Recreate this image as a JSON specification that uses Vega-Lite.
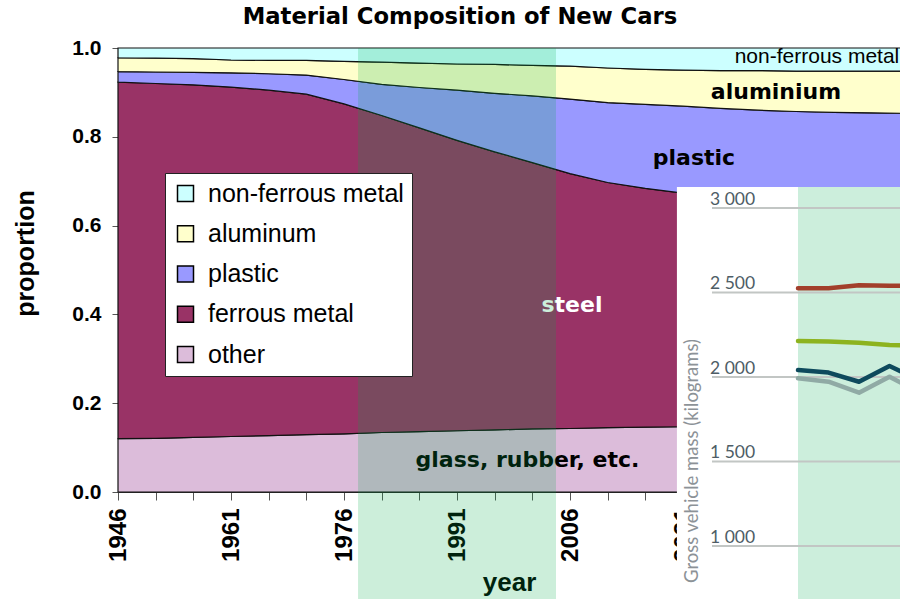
{
  "$schema": "https://vega.github.io/schema/vega-lite/v6.json",
  "width": 782,
  "height": 444,
  "autosize": {"type": "none"},
  "padding": {"left": 118, "top": 48, "right": 0, "bottom": 107},
  "background": "white",
  "title": {"text": "Material Composition of New Cars", "font": "DejaVu Sans", "fontSize": 22.7, "fontWeight": "bold", "color": "black", "anchor": "middle", "dx": -49, "offset": 8},
  "config": {"view": {"stroke": null}},
  "datasets": {
    "composition": [
      {"year": 1946, "material": "other", "share": 0.120}, {"year": 1946, "material": "ferrous metal", "share": 0.803}, {"year": 1946, "material": "plastic", "share": 0.024}, {"year": 1946, "material": "aluminum", "share": 0.031}, {"year": 1946, "material": "non-ferrous metal", "share": 0.022},
      {"year": 1951, "material": "other", "share": 0.121}, {"year": 1951, "material": "ferrous metal", "share": 0.799}, {"year": 1951, "material": "plastic", "share": 0.026}, {"year": 1951, "material": "aluminum", "share": 0.031}, {"year": 1951, "material": "non-ferrous metal", "share": 0.023},
      {"year": 1956, "material": "other", "share": 0.123}, {"year": 1956, "material": "ferrous metal", "share": 0.794}, {"year": 1956, "material": "plastic", "share": 0.028}, {"year": 1956, "material": "aluminum", "share": 0.031}, {"year": 1956, "material": "non-ferrous metal", "share": 0.024},
      {"year": 1961, "material": "other", "share": 0.125}, {"year": 1961, "material": "ferrous metal", "share": 0.787}, {"year": 1961, "material": "plastic", "share": 0.032}, {"year": 1961, "material": "aluminum", "share": 0.029}, {"year": 1961, "material": "non-ferrous metal", "share": 0.027},
      {"year": 1966, "material": "other", "share": 0.127}, {"year": 1966, "material": "ferrous metal", "share": 0.778}, {"year": 1966, "material": "plastic", "share": 0.037}, {"year": 1966, "material": "aluminum", "share": 0.030}, {"year": 1966, "material": "non-ferrous metal", "share": 0.028},
      {"year": 1971, "material": "other", "share": 0.129}, {"year": 1971, "material": "ferrous metal", "share": 0.767}, {"year": 1971, "material": "plastic", "share": 0.043}, {"year": 1971, "material": "aluminum", "share": 0.033}, {"year": 1971, "material": "non-ferrous metal", "share": 0.028},
      {"year": 1976, "material": "other", "share": 0.131}, {"year": 1976, "material": "ferrous metal", "share": 0.743}, {"year": 1976, "material": "plastic", "share": 0.055}, {"year": 1976, "material": "aluminum", "share": 0.041}, {"year": 1976, "material": "non-ferrous metal", "share": 0.030},
      {"year": 1981, "material": "other", "share": 0.134}, {"year": 1981, "material": "ferrous metal", "share": 0.714}, {"year": 1981, "material": "plastic", "share": 0.070}, {"year": 1981, "material": "aluminum", "share": 0.050}, {"year": 1981, "material": "non-ferrous metal", "share": 0.032},
      {"year": 1986, "material": "other", "share": 0.136}, {"year": 1986, "material": "ferrous metal", "share": 0.684}, {"year": 1986, "material": "plastic", "share": 0.091}, {"year": 1986, "material": "aluminum", "share": 0.055}, {"year": 1986, "material": "non-ferrous metal", "share": 0.034},
      {"year": 1991, "material": "other", "share": 0.138}, {"year": 1991, "material": "ferrous metal", "share": 0.654}, {"year": 1991, "material": "plastic", "share": 0.113}, {"year": 1991, "material": "aluminum", "share": 0.059}, {"year": 1991, "material": "non-ferrous metal", "share": 0.036},
      {"year": 1996, "material": "other", "share": 0.140}, {"year": 1996, "material": "ferrous metal", "share": 0.626}, {"year": 1996, "material": "plastic", "share": 0.132}, {"year": 1996, "material": "aluminum", "share": 0.065}, {"year": 1996, "material": "non-ferrous metal", "share": 0.037},
      {"year": 2001, "material": "other", "share": 0.142}, {"year": 2001, "material": "ferrous metal", "share": 0.600}, {"year": 2001, "material": "plastic", "share": 0.150}, {"year": 2001, "material": "aluminum", "share": 0.069}, {"year": 2001, "material": "non-ferrous metal", "share": 0.039},
      {"year": 2006, "material": "other", "share": 0.143}, {"year": 2006, "material": "ferrous metal", "share": 0.574}, {"year": 2006, "material": "plastic", "share": 0.168}, {"year": 2006, "material": "aluminum", "share": 0.074}, {"year": 2006, "material": "non-ferrous metal", "share": 0.041},
      {"year": 2011, "material": "other", "share": 0.145}, {"year": 2011, "material": "ferrous metal", "share": 0.552}, {"year": 2011, "material": "plastic", "share": 0.180}, {"year": 2011, "material": "aluminum", "share": 0.078}, {"year": 2011, "material": "non-ferrous metal", "share": 0.045},
      {"year": 2016, "material": "other", "share": 0.146}, {"year": 2016, "material": "ferrous metal", "share": 0.538}, {"year": 2016, "material": "plastic", "share": 0.189}, {"year": 2016, "material": "aluminum", "share": 0.079}, {"year": 2016, "material": "non-ferrous metal", "share": 0.048},
      {"year": 2021, "material": "other", "share": 0.147}, {"year": 2021, "material": "ferrous metal", "share": 0.526}, {"year": 2021, "material": "plastic", "share": 0.196}, {"year": 2021, "material": "aluminum", "share": 0.081}, {"year": 2021, "material": "non-ferrous metal", "share": 0.050},
      {"year": 2026, "material": "other", "share": 0.149}, {"year": 2026, "material": "ferrous metal", "share": 0.518}, {"year": 2026, "material": "plastic", "share": 0.197}, {"year": 2026, "material": "aluminum", "share": 0.085}, {"year": 2026, "material": "non-ferrous metal", "share": 0.051},
      {"year": 2031, "material": "other", "share": 0.150}, {"year": 2031, "material": "ferrous metal", "share": 0.512}, {"year": 2031, "material": "plastic", "share": 0.198}, {"year": 2031, "material": "aluminum", "share": 0.089}, {"year": 2031, "material": "non-ferrous metal", "share": 0.051},
      {"year": 2036, "material": "other", "share": 0.151}, {"year": 2036, "material": "ferrous metal", "share": 0.507}, {"year": 2036, "material": "plastic", "share": 0.199}, {"year": 2036, "material": "aluminum", "share": 0.091}, {"year": 2036, "material": "non-ferrous metal", "share": 0.052},
      {"year": 2041, "material": "other", "share": 0.152}, {"year": 2041, "material": "ferrous metal", "share": 0.503}, {"year": 2041, "material": "plastic", "share": 0.200}, {"year": 2041, "material": "aluminum", "share": 0.093}, {"year": 2041, "material": "non-ferrous metal", "share": 0.052},
      {"year": 2046, "material": "other", "share": 0.153}, {"year": 2046, "material": "ferrous metal", "share": 0.499}, {"year": 2046, "material": "plastic", "share": 0.202}, {"year": 2046, "material": "aluminum", "share": 0.094}, {"year": 2046, "material": "non-ferrous metal", "share": 0.052},
      {"year": 2050, "material": "other", "share": 0.154}, {"year": 2050, "material": "ferrous metal", "share": 0.496}, {"year": 2050, "material": "plastic", "share": 0.203}, {"year": 2050, "material": "aluminum", "share": 0.095}, {"year": 2050, "material": "non-ferrous metal", "share": 0.052}
    ],
    "mass": [
      {"year": 2003, "series": "S1", "mass": 1992}, {"year": 2004, "series": "S1", "mass": 1972}, {"year": 2005, "series": "S1", "mass": 1907}, {"year": 2006, "series": "S1", "mass": 2002}, {"year": 2007, "series": "S1", "mass": 1905},
      {"year": 2003, "series": "S2", "mass": 2041}, {"year": 2004, "series": "S2", "mass": 2026}, {"year": 2005, "series": "S2", "mass": 1972}, {"year": 2006, "series": "S2", "mass": 2065}, {"year": 2007, "series": "S2", "mass": 1980},
      {"year": 2003, "series": "S3", "mass": 2213}, {"year": 2004, "series": "S3", "mass": 2210}, {"year": 2005, "series": "S3", "mass": 2203}, {"year": 2006, "series": "S3", "mass": 2190}, {"year": 2007, "series": "S3", "mass": 2183},
      {"year": 2003, "series": "S4", "mass": 2525}, {"year": 2004, "series": "S4", "mass": 2525}, {"year": 2005, "series": "S4", "mass": 2543}, {"year": 2006, "series": "S4", "mass": 2540}, {"year": 2007, "series": "S4", "mass": 2538}
    ],
    "massTicks": [
      {"mass": 1000, "label": "1 000"}, {"mass": 1500, "label": "1 500"}, {"mass": 2000, "label": "2 000"}, {"mass": 2500, "label": "2 500"}, {"mass": 3000, "label": "3 000"}
    ]
  },
  "layer": [
    {
      "layer": [
        {
          "data": {"name": "composition"},
          "transform": [{"calculate": "indexof(['other', 'ferrous metal', 'plastic', 'aluminum', 'non-ferrous metal'], datum.material)", "as": "stackOrder"}],
          "mark": {"type": "area", "stroke": "#111111", "strokeWidth": 1.2, "interpolate": "linear"},
          "encoding": {
            "x": {"field": "year", "type": "quantitative", "scale": {"domain": [1946, 2049.8], "nice": false, "zero": false},
              "axis": {"orient": "bottom", "values": [1946, 1951, 1956, 1961, 1966, 1971, 1976, 1981, 1986, 1991, 1996, 2001, 2006, 2011, 2016, 2021, 2026, 2031, 2036, 2041, 2046], "tickCount": 40,
                "labelExpr": "(datum.value - 1946) % 15 == 0 ? '' + datum.value : ''", "labelAngle": 270, "labelFont": "Liberation Sans", "labelFontWeight": "bold", "labelFontSize": 24, "labelColor": "black", "labelPadding": 8, "labelOverlap": false, "labelFlush": false,
                "tickSize": 8, "tickColor": "#555555", "domainColor": "#333333", "grid": false,
                "title": "year", "titleFont": "Liberation Sans", "titleFontWeight": "bold", "titleFontSize": 26, "titleColor": "black", "titleBaseline": "alphabetic", "titleY": 98}},
            "y": {"field": "share", "type": "quantitative", "stack": "zero", "scale": {"domain": [0, 1], "nice": false},
              "axis": {"orient": "left", "values": [0, 0.2, 0.4, 0.6, 0.8, 1], "format": ".1f", "labelFont": "Liberation Sans", "labelFontWeight": "bold", "labelFontSize": 21, "labelColor": "black", "labelPadding": 11,
                "tickSize": 6, "tickColor": "#555555", "domainColor": "#333333", "grid": false,
                "title": "proportion", "titleFont": "Liberation Sans", "titleFontWeight": "bold", "titleFontSize": 25, "titleColor": "black", "titleAngle": 270, "titleAlign": "center", "titleBaseline": "middle", "titleX": -93, "titleY": 205}},
            "order": {"field": "stackOrder", "type": "quantitative", "sort": "ascending"},
            "color": {"field": "material", "type": "nominal",
              "sort": ["non-ferrous metal", "aluminum", "plastic", "ferrous metal", "other"],
              "scale": {"domain": ["non-ferrous metal", "aluminum", "plastic", "ferrous metal", "other"], "range": ["#CCFFFF", "#FFFFCC", "#9999FF", "#993366", "#DCBCDA"]},
              "legend": {"title": null, "orient": "none", "legendX": 47, "legendY": 125, "padding": 8,
                "fillColor": "white",
                "strokeColor": "#222222", "labelFont": "Liberation Sans", "labelFontSize": 25, "labelColor": "black", "labelOffset": 10, "labelLimit": 400,
                "symbolType": "square", "symbolSize": 256, "symbolStrokeColor": "black", "symbolStrokeWidth": 1.5, "symbolOpacity": 1, "rowPadding": 14.25}}
          }
        },
        {
          "data": {"values": [{}]},
          "mark": {"type": "text", "font": "Liberation Sans", "fontSize": 21, "fill": "black", "align": "right", "baseline": "middle"},
          "encoding": {"x": {"datum": 2049.7}, "y": {"datum": 0.98}, "text": {"value": "non-ferrous metal"}}
        },
        {
          "data": {"values": [{}]},
          "mark": {"type": "text", "font": "DejaVu Sans", "fontWeight": "bold", "fontSize": 22, "fill": "black", "align": "center", "baseline": "middle"},
          "encoding": {"x": {"datum": 2033.34}, "y": {"datum": 0.901}, "text": {"value": "aluminium"}}
        },
        {
          "data": {"values": [{}]},
          "mark": {"type": "text", "font": "DejaVu Sans", "fontWeight": "bold", "fontSize": 22, "fill": "black", "align": "center", "baseline": "middle"},
          "encoding": {"x": {"datum": 2022.45}, "y": {"datum": 0.752}, "text": {"value": "plastic"}}
        },
        {
          "data": {"values": [{}]},
          "mark": {"type": "text", "font": "DejaVu Sans", "fontWeight": "bold", "fontSize": 22, "fill": "white", "align": "center", "baseline": "middle"},
          "encoding": {"x": {"datum": 2006.26}, "y": {"datum": 0.421}, "text": {"value": "steel"}}
        },
        {
          "data": {"values": [{}]},
          "mark": {"type": "text", "font": "DejaVu Sans", "fontWeight": "bold", "fontSize": 22, "fill": "black", "align": "center", "baseline": "middle"},
          "encoding": {"x": {"datum": 2000.35}, "y": {"datum": 0.072}, "text": {"value": "glass, rubber, etc."}}
        },
        {
          "data": {"values": [{}]},
          "mark": {"type": "rect", "fill": "#00AA46", "fillOpacity": 0.2},
          "encoding": {"x": {"datum": 1977.86}, "x2": {"datum": 2004.14}, "y": {"datum": 1}, "y2": {"datum": -0.25}}
        }
      ]
    },
    {
      "layer": [
        {
          "data": {"values": [{}]},
          "mark": {"type": "rect", "fill": "white"},
          "encoding": {
            "x": {"datum": 1999.03, "scale": {"domain": [1980.705, 2006.344], "nice": false, "zero": false}, "axis": null},
            "x2": {"datum": 2008},
            "y": {"datum": 3124, "scale": {"domain": [1319.5, 3946.7], "nice": false, "zero": false}, "axis": null},
            "y2": {"datum": 600}
          }
        },
        {
          "data": {"values": [{}]},
          "mark": {"type": "rect", "fill": "#CCEEDC"},
          "encoding": {
            "x": {"datum": 2003, "scale": {"domain": [1980.705, 2006.344], "nice": false, "zero": false}, "axis": null},
            "x2": {"datum": 2008},
            "y": {"datum": 3124, "scale": {"domain": [1319.5, 3946.7], "nice": false, "zero": false}, "axis": null},
            "y2": {"datum": 600}
          }
        },
        {
          "data": {"name": "massTicks"},
          "mark": {"type": "rule", "stroke": "#C2C6C4", "strokeWidth": 2},
          "encoding": {
            "x": {"datum": 2000.18, "scale": {"domain": [1980.705, 2006.344], "nice": false, "zero": false}, "axis": null},
            "x2": {"datum": 2008},
            "y": {"field": "mass", "type": "quantitative", "scale": {"domain": [1319.5, 3946.7], "nice": false, "zero": false}, "axis": null}
          }
        },
        {
          "data": {"name": "massTicks"},
          "mark": {"type": "text", "font": "Lato", "fontSize": 17.5, "fill": "#4E5D66", "align": "left", "baseline": "alphabetic", "dy": -3},
          "encoding": {
            "x": {"datum": 2000.115, "scale": {"domain": [1980.705, 2006.344], "nice": false, "zero": false}, "axis": null},
            "y": {"field": "mass", "type": "quantitative", "scale": {"domain": [1319.5, 3946.7], "nice": false, "zero": false}, "axis": null},
            "text": {"field": "label"}
          }
        },
        {
          "data": {"values": [{}]},
          "mark": {"type": "text", "font": "Lato", "fontSize": 18.5, "fill": "#8C9297", "align": "center", "baseline": "middle", "angle": 270},
          "encoding": {
            "x": {"datum": 1999.525, "scale": {"domain": [1980.705, 2006.344], "nice": false, "zero": false}, "axis": null},
            "y": {"datum": 1503, "scale": {"domain": [1319.5, 3946.7], "nice": false, "zero": false}, "axis": null},
            "text": {"value": "Gross vehicle mass (kilograms)"}
          }
        },
        {
          "data": {"name": "mass"},
          "mark": {"type": "line", "strokeWidth": 4.5, "strokeCap": "round", "strokeJoin": "round"},
          "encoding": {
            "x": {"field": "year", "type": "quantitative", "scale": {"domain": [1980.705, 2006.344], "nice": false, "zero": false}, "axis": null},
            "y": {"field": "mass", "type": "quantitative", "scale": {"domain": [1319.5, 3946.7], "nice": false, "zero": false}, "axis": null},
            "color": {"field": "series", "type": "nominal", "scale": {"domain": ["S1", "S2", "S3", "S4"], "range": ["#90AAA5", "#0E4A5D", "#8DB31F", "#A23F2B"]}, "legend": null}
          }
        }
      ]
    }
  ],
  "resolve": {"scale": {"x": "independent", "y": "independent", "color": "independent"}}
}
